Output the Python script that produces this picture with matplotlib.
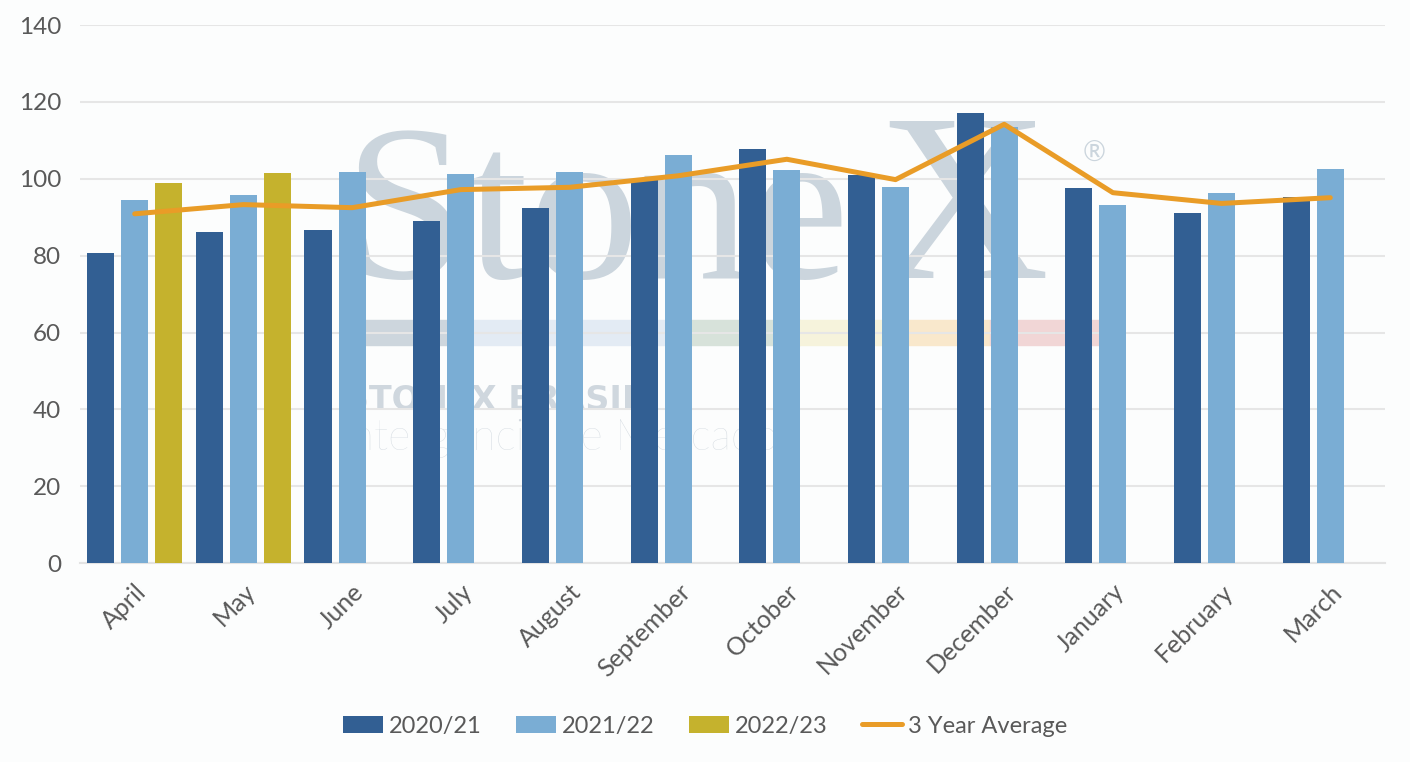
import numpy as np
import matplotlib.pyplot as plt

months = ['April', 'May', 'June', 'July', 'August', 'September', 'October',
          'November', 'December', 'January', 'February', 'March']
s2020 = [80.8, 86.2, 86.7, 89.0, 92.5, 99.7, 107.8, 101.0, 117.2, 97.7, 91.2, 95.3]
s2021 = [94.6, 95.9, 101.8, 101.3, 101.8, 106.3, 102.4, 97.9, 113.6, 93.2, 96.4, 102.6]
s2022 = [98.8, 101.6]
avg3 = [90.9, 93.3, 92.5, 97.2, 97.8, 100.8, 105.1, 99.8, 114.2, 96.4, 93.6, 95.1]

c_dark = '#325f93'
c_light = '#7aadd4'
c_gold = '#c5b22d'
c_line = '#e99c27'
txt = '#595959'
wm = '#cbd5dd'

plt.rcParams['font.family'] = ['Lato', 'DejaVu Sans']

fig = plt.figure(figsize=(14.1, 7.62), dpi=100)
fig.patch.set_facecolor('#fcfdfd')
ax = fig.add_axes([0.057, 0.261, 0.925, 0.706])
ax.set_facecolor('#fcfdfd')

# faint watermark behind the bars
ftr = fig.transFigure
ax.text(0.243, 0.635, 'Stone', transform=ftr, fontsize=160,
        family='Liberation Serif', color=wm, zorder=0.1, va='baseline',
        clip_on=False)
ax.text(0.622, 0.635, 'X', transform=ftr, fontsize=172,
        family='Liberation Serif', color=wm, zorder=0.1, va='baseline',
        clip_on=False)
ax.text(0.768, 0.787, '®', transform=ftr, fontsize=20, color=wm,
        zorder=0.1, clip_on=False)
stripe = [(365, 470, '#cdd6dd'), (470, 690, '#e3ebf4'), (690, 800, '#d7e2da'),
          (800, 905, '#f6f3dc'), (905, 990, '#f9e8cc'), (990, 1100, '#f1d6d6')]
for x0, x1, c in stripe:
    ax.add_patch(plt.Rectangle((x0 / 1410, 1 - 345 / 762), (x1 - x0) / 1410,
                               25 / 762, transform=ftr, color=c, zorder=0.1,
                               clip_on=False))
ax.text(0.245, 1 - 410 / 762, 'STONEX BRASIL', transform=ftr, fontsize=24,
        weight='bold', family='DejaVu Sans', color='#cfd7de', zorder=0.1,
        clip_on=False)
ax.text(0.241, 1 - 450 / 762, 'Inteligência de Mercado', transform=ftr,
        fontsize=31, weight='light', color='#d3dae0', zorder=0.1,
        clip_on=False)

x = np.arange(len(months))
w = 0.25
off = 0.313
ax.bar(x - off, s2020, w, color=c_dark, label='2020/21', zorder=3)
ax.bar(x, s2021, w, color=c_light, label='2021/22', zorder=3)
ax.bar(x[:len(s2022)] + off, s2022, w, color=c_gold, label='2022/23', zorder=3)
ax.plot(x, avg3, color=c_line, lw=3.6, label='3 Year Average', zorder=4,
        solid_capstyle='round')

ax.set_xlim(-0.5, len(months) - 0.5)
ax.set_ylim(0, 140)
ax.set_yticks(range(0, 141, 20))
ax.yaxis.grid(True, color='#e6e6e6', lw=1.5, zorder=0.5)
ax.set_axisbelow(True)
for s in ['top', 'right', 'left']:
    ax.spines[s].set_visible(False)
ax.spines['bottom'].set_color('#e3e3e3')
ax.spines['bottom'].set_linewidth(1.5)
ax.tick_params(axis='both', length=0, labelcolor=txt)
ax.tick_params(axis='y', pad=14, labelsize=17.5)
ax.set_xticks(x)
ax.set_xticklabels(months, rotation=45, ha='right', rotation_mode='anchor')
ax.tick_params(axis='x', pad=12, labelsize=18)

h, l = ax.get_legend_handles_labels()
order = [1, 2, 3, 0]
leg = fig.legend([h[i] for i in order], [l[i] for i in order], loc='center',
                 bbox_to_anchor=(0.5, 0.047), ncol=4, frameon=False,
                 fontsize=17, handlelength=1.7, handletextpad=0.25,
                 columnspacing=1.45)
for t in leg.get_texts():
    t.set_color(txt)

fig.savefig('out.png', dpi=100, facecolor=fig.get_facecolor())
